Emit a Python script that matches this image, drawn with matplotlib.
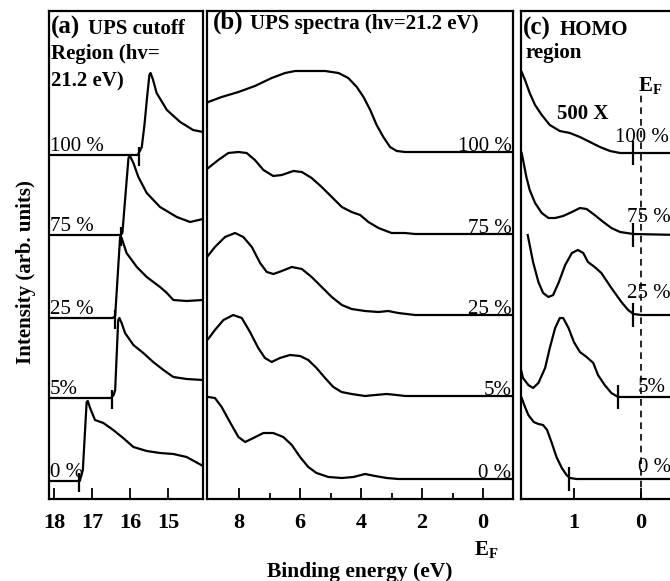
import numpy as np
import matplotlib.pyplot as plt

plt.rcParams['font.family'] = 'Liberation Serif'
plt.rcParams['font.weight'] = 'bold'
plt.rcParams['mathtext.fontset'] = 'custom'
plt.rcParams['mathtext.rm'] = 'Liberation Serif:bold'
plt.rcParams['mathtext.bf'] = 'Liberation Serif:bold'

labels = ['0 %', '5%', '25 %', '75 %', '100 %']

# vertical offsets of the stacked spectra (arb. units)
offsets_a = [18, 101, 181, 264, 344]
offsets_b = [20, 103, 184, 265, 347]
offsets_c = [20, 102, 184, 264, 346]

# (a) secondary electron cutoff region
a0_e = [18.13, 17.32, 17.24, 17.14, 17.11, 17.05, 16.92, 16.70, 16.44, 16.18, 15.91, 15.56, 15.21, 14.86, 14.51, 14.08]
a0_i = [0, 0, 11, 79, 80, 73, 61, 58, 51, 43, 34, 30, 28, 27, 24, 15]
a5_e = [18.13, 16.50, 16.43, 16.39, 16.31, 16.28, 16.22, 16.13, 15.91, 15.65, 15.39, 15.12, 14.86, 14.51, 14.08]
a5_i = [0, 0, 3, 8, 78, 80, 75, 65, 53, 45, 36, 28, 21, 19, 18]
a25_e = [18.13, 16.45, 16.39, 16.26, 16.22, 16.09, 15.82, 15.56, 15.21, 15.03, 14.86, 14.51, 14.08]
a25_i = [0, 0, 2, 81, 80, 65, 51, 41, 31, 25, 18, 17, 18]
a75_e = [18.13, 16.26, 16.20, 16.04, 16.00, 15.91, 15.78, 15.56, 15.21, 14.77, 14.42, 14.08]
a75_i = [0, 0, 2, 77, 79, 72, 58, 42, 28, 18, 13, 16]
a100_e = [18.13, 15.80, 15.74, 15.69, 15.62, 15.55, 15.49, 15.46, 15.40, 15.30, 15.03, 14.68, 14.34, 14.08]
a100_i = [0, 0, 4, 8, 30, 58, 80, 82, 76, 62, 45, 33, 25, 23]
cutoff_a = [17.34, 16.47, 16.39, 16.24, 15.76]

# (b) full UPS spectra
b0_e = [9.05, 9.01, 8.79, 8.57, 8.30, 8.02, 7.80, 7.53, 7.20, 6.88, 6.55, 6.27, 6.00, 5.73, 5.46, 5.07, 4.63,
        4.25, 3.87, 3.54, 3.16, 2.78, 2.23, -0.98]
b0_i = [82, 82, 81, 72, 57, 42, 37, 41, 46, 46, 42, 34, 22, 12, 6, 2, 1, 2, 5, 3, 1, 0, 0, 0]
b5_e = [9.05, 9.01, 8.79, 8.51, 8.19, 7.91, 7.64, 7.37, 7.15, 6.93, 6.66, 6.33, 6.00, 5.73, 5.46, 5.18, 4.91,
        4.64, 4.31, 3.87, 3.54, 3.16, 2.83, 2.56, 2.23, -0.98]
b5_i = [56, 57, 66, 76, 81, 78, 64, 48, 38, 34, 38, 41, 40, 36, 28, 18, 9, 4, 2, 0, 1, 2, 1, 0, 0, 0]
b25_e = [9.05, 8.79, 8.46, 8.13, 7.86, 7.58, 7.31, 7.09, 6.87, 6.60, 6.27, 5.94, 5.62, 5.29, 4.96, 4.63, 4.31,
         3.87, 3.43, 3.11, 2.78, 2.23, -0.98]
b25_i = [58, 68, 78, 82, 78, 68, 52, 43, 41, 44, 48, 46, 38, 28, 18, 10, 6, 4, 3, 4, 2, 0, 0]
b75_e = [9.05, 9.01, 8.68, 8.35, 8.02, 7.75, 7.48, 7.20, 6.88, 6.60, 6.22, 5.94, 5.62, 5.29, 4.96, 4.63, 4.31,
         4.03, 3.76, 3.43, 3.00, 2.56, 2.23, -0.98]
b75_i = [65, 66, 74, 81, 82, 81, 74, 64, 58, 59, 63, 62, 56, 47, 37, 27, 22, 19, 12, 6, 1, 1, 0, 0]
b100_e = [9.05, 9.01, 8.57, 8.02, 7.48, 6.93, 6.49, 6.16, 5.73, 5.18, 4.74, 4.42, 4.14, 3.92, 3.70, 3.49, 3.27,
          3.05, 2.83, 2.56, -0.98]
b100_i = [49, 50, 55, 60, 66, 74, 79, 81, 81, 81, 79, 74, 65, 55, 42, 27, 15, 5, 1, 0, 0]

# (c) HOMO region (x500)
c0_e = [1.78, 1.73, 1.68, 1.60, 1.53, 1.46, 1.40, 1.33, 1.26, 1.18, 1.11, 1.06, 0.96, 0.76, 0.46, 0.06, -0.6]
c0_i = [81, 72, 64, 57, 55, 54, 49, 36, 22, 11, 4, 1, 0, 0, 0, 0, 0]
c5_e = [1.79, 1.76, 1.68, 1.61, 1.53, 1.43, 1.36, 1.28, 1.21, 1.16, 1.08, 1.00, 0.91, 0.81, 0.71, 0.64, 0.54,
        0.44, 0.34, 0.24, -0.6]
c5_i = [27, 19, 12, 9, 14, 29, 49, 69, 79, 79, 69, 55, 45, 40, 34, 22, 12, 4, 0, 0, 0]
c25_e = [1.69, 1.66, 1.61, 1.53, 1.46, 1.38, 1.31, 1.23, 1.13, 1.03, 0.94, 0.86, 0.79, 0.69, 0.59, 0.44, 0.29,
         0.19, 0.11, -0.01, -0.6]
c25_i = [80, 70, 53, 33, 22, 18, 20, 32, 50, 62, 65, 62, 53, 48, 42, 27, 13, 5, 1, 0, 0]
c75_e = [1.78, 1.75, 1.71, 1.66, 1.58, 1.48, 1.38, 1.28, 1.16, 1.03, 0.91, 0.81, 0.69, 0.56, 0.44, 0.31, 0.11, -0.6]
c75_i = [82, 72, 58, 45, 32, 22, 17, 17, 19, 23, 27, 26, 20, 13, 7, 3, 1, 0]
c100_e = [1.78, 1.73, 1.66, 1.58, 1.48, 1.36, 1.21, 1.06, 0.91, 0.76, 0.61, 0.46, 0.31, 0.11, -0.6]
c100_i = [81, 73, 60, 48, 38, 28, 22, 20, 16, 11, 6, 2, 0, 0, 0]
onset_c = [1.07, 0.34, 0.11, 0.12, 0.11]

W, H = 670, 581
fig = plt.figure(figsize=(W / 100, H / 100), dpi=100)


def box(left, right, top=11, bottom=499):
    return [left / W, 1 - bottom / H, (right - left) / W, (bottom - top) / H]


def fx(px):
    return px / W


def fy(py):
    return 1 - py / H


def style(ax, lim, ticks, minor=None):
    ax.set_xlim(*lim)
    ax.set_ylim(0, 488)
    ax.set_xticks(ticks)
    if minor is not None:
        ax.set_xticks(minor, minor=True)
    ax.set_yticks([])
    ax.tick_params(axis='x', direction='in', length=8, width=1.3, labelsize=16, pad=10)
    ax.tick_params(axis='x', which='minor', direction='in', length=4.5, width=1.3)
    for s in ax.spines.values():
        s.set_linewidth(1.6)
    for t in ax.get_xticklabels():
        t.set_fontweight('bold')


def stack(ax, curves, offsets):
    for (e, i), off in zip(curves, offsets):
        ax.plot(e, np.array(i) + off, color='black', lw=1.6, solid_joinstyle='round')


ax_a = fig.add_axes(box(49, 203))
ax_b = fig.add_axes(box(207, 513))
ax_c = fig.add_axes(box(521, 681))

style(ax_a, (18.13, 14.08), [18, 17, 16, 15])
style(ax_b, (9.05, -0.98), [8, 6, 4, 2, 0], [7, 5, 3, 1])
style(ax_c, (1.79, -0.6), [1, 0])

# (a)
stack(ax_a, [(a0_e, a0_i), (a5_e, a5_i), (a25_e, a25_i), (a75_e, a75_i), (a100_e, a100_i)], offsets_a)
ax_a.vlines(cutoff_a, np.array(offsets_a) - 11, np.array(offsets_a) + 8, color='black', lw=1.6)
for lab, off in zip(labels, offsets_a):
    ax_a.text(18.1, off + 4, lab, fontsize=15, fontweight='normal', ha='left', va='baseline')

# (b)
stack(ax_b, [(b0_e, b0_i), (b5_e, b5_i), (b25_e, b25_i), (b75_e, b75_i), (b100_e, b100_i)], offsets_b)
for lab, off in zip(labels, offsets_b):
    ax_b.text(-0.93, off + 1, lab, fontsize=15, fontweight='normal', ha='right', va='baseline')

# (c)
stack(ax_c, [(c0_e, c0_i), (c5_e, c5_i), (c25_e, c25_i), (c75_e, c75_i), (c100_e, c100_i)], offsets_c)
ax_c.vlines(onset_c, np.array(offsets_c) - 12, np.array(offsets_c) + 12, color='black', lw=1.6)
ax_c.plot([0, 0], [0, 405], color='black', lw=1.2, ls=(0, (4, 3)))
label_pos_c = [(0.045, 7), (0.045, 5), (0.21, 17), (0.21, 13), (0.39, 11)]
for lab, off, (xe, dy) in zip(labels, offsets_c, label_pos_c):
    ax_c.text(xe, off + dy, lab, fontsize=15, fontweight='normal', ha='left', va='baseline')
ax_c.text(1.25, 380, '500 X', fontsize=15, ha='left', va='baseline')
ax_c.text(0.045, 408, r'$\mathbf{E_F}$', fontsize=15, ha='left', va='baseline')

# panel titles
fig.text(fx(51), fy(34), '(a)', fontsize=18, va='baseline')
fig.text(fx(88), fy(34), 'UPS cutoff', fontsize=15, va='baseline')
fig.text(fx(51), fy(59), 'Region (hv=', fontsize=15, va='baseline')
fig.text(fx(51), fy(86), '21.2 eV)', fontsize=15, va='baseline')
fig.text(fx(213), fy(29), '(b)', fontsize=18, va='baseline')
fig.text(fx(250), fy(29), 'UPS spectra (hv=21.2 eV)', fontsize=15, va='baseline')
fig.text(fx(523), fy(35), '(c)', fontsize=18, va='baseline')
fig.text(fx(560), fy(35), 'HOMO', fontsize=15, va='baseline')
fig.text(fx(525), fy(58), 'region', fontsize=15, va='baseline')

fig.text(fx(26), fy(272), 'Intensity (arb. units)', fontsize=15, rotation=90, ha='center', va='center')
fig.text(fx(474), fy(555), r'$\mathbf{E_F}$', fontsize=15, ha='left', va='baseline')
fig.text(fx(360), fy(577), 'Binding energy (eV)', fontsize=15.5, ha='center', va='baseline')

fig.savefig('out.png', dpi=100)
